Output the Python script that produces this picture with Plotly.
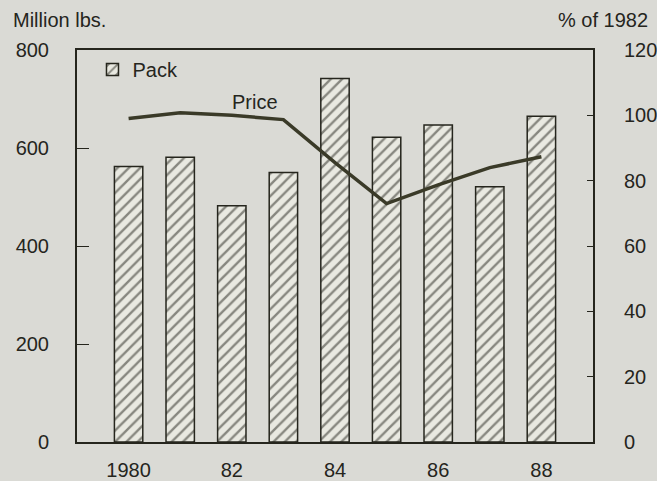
import plotly.graph_objects as go

years = [1980, 1981, 1982, 1983, 1984, 1985, 1986, 1987, 1988]
pack = [562, 581, 482, 550, 742, 622, 647, 521, 665]
price = [99.0, 100.8, 100.0, 98.7, 85.5, 73.0, 78.7, 84.0, 87.3]
x_tickvals = [1980, 1982, 1984, 1986, 1988]
x_ticktext = ["1980", "82", "84", "86", "88"]
left_ticks = [0, 200, 400, 600, 800]
right_ticks = [0, 20, 40, 60, 80, 100, 120]

BG = "#dadad5"
INK = "#25251d"
FONT = "Liberation Sans, Arial, sans-serif"

fig = go.Figure()
fig.add_trace(go.Bar(
    x=years, y=pack, name="Pack", width=0.55,
    marker=dict(color="#e9e9e1", line=dict(color=INK, width=1.5),
                pattern=dict(shape="/", fgcolor=INK, bgcolor="#e9e9e1", size=8, solidity=0.3)),
    yaxis="y", showlegend=True,
))
fig.add_trace(go.Scatter(
    x=years, y=price, name="Price", mode="lines",
    line=dict(color="#3a3a28", width=3.5),
    yaxis="y2", showlegend=False,
))

fig.update_layout(
    width=657, height=481,
    margin=dict(l=77, r=64, t=50, b=39),
    paper_bgcolor=BG, plot_bgcolor=BG,
    font=dict(family=FONT, size=20, color=INK),
    xaxis=dict(range=[1979, 1989], tickvals=x_tickvals, ticktext=x_ticktext,
               showline=True, linecolor=INK, linewidth=2, mirror=True,
               showgrid=False, zeroline=False, ticks="", ticklabelstandoff=9,
               automargin=False),
    yaxis=dict(range=[0, 800], tickvals=left_ticks, showline=True, linecolor=INK,
               linewidth=2, showgrid=False, zeroline=False, ticks="inside",
               ticklen=12, tickcolor=INK, ticklabelstandoff=22, automargin=False),
    yaxis2=dict(range=[0, 120], tickvals=right_ticks, overlaying="y", side="right",
                showline=True, linecolor=INK, linewidth=2, showgrid=False,
                zeroline=False, ticks="inside", ticklen=6, tickcolor=INK,
                ticklabelstandoff=25, automargin=False),
    legend=dict(x=0.03, y=1.0, xanchor="left", yanchor="top",
                bgcolor="rgba(0,0,0,0)", font=dict(size=20), itemwidth=30),
    annotations=[
        dict(text="Million lbs.", x=-0.128, y=1.077, xref="paper", yref="paper",
             showarrow=False, xanchor="left", yanchor="middle"),
        dict(text="% of 1982", x=1.11, y=1.077, xref="paper", yref="paper",
             showarrow=False, xanchor="right", yanchor="middle"),
        dict(text="Price", x=1982.45, y=104, xref="x", yref="y2",
             showarrow=False),
    ],
)

fig.write_html("out.html", config={"displayModeBar": False},
               post_script="document.body.style.margin='0px';")
